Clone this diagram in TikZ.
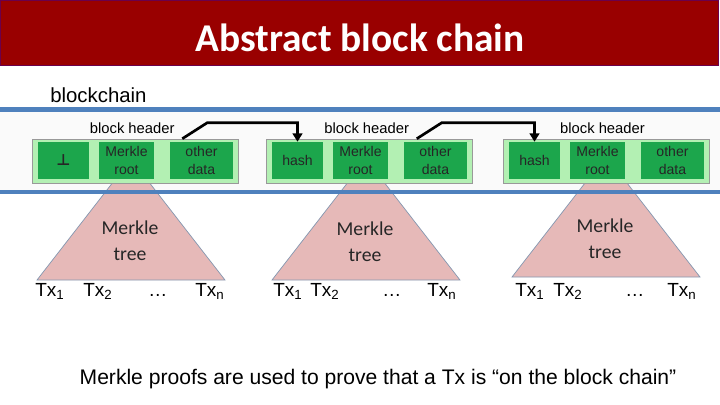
\documentclass[tikz,border=0pt]{standalone}
\usepackage{fontspec}
\setmainfont{Liberation Sans}
\newfontfamily\carlito{Carlito}
\newfontfamily\dejavu{DejaVu Sans}
\usetikzlibrary{arrows.meta, positioning}
\definecolor{bcred}{HTML}{990000}
\definecolor{bcblue}{HTML}{4F81BD}
\definecolor{bclightgreen}{HTML}{B3F0B3}
\definecolor{bcgreen}{HTML}{1CA64C}
\definecolor{bcpink}{HTML}{E6B9B8}
\definecolor{bcedge}{HTML}{8497B0}
\definecolor{bcband}{HTML}{FAFAFA}

\begin{document}
\begin{tikzpicture}[
  every node/.style={inner sep=0pt},
  hdrbox/.style={rectangle, draw=black!40, fill=bclightgreen, minimum width=5.15cm, minimum height=1.1cm},
  fieldbox/.style={rectangle, fill=bcgreen, minimum height=0.925cm, align=center, font=\fontsize{10}{12.8}\selectfont, text=black!85},
  hdrlabel/.style={font=\fontsize{10.5}{12}\selectfont},
  treefill/.style={fill=bcpink, draw=bcedge, line width=0.5pt},
  treelabel/.style={font=\carlito\fontsize{14}{18.5}\selectfont, align=center, text=black!85},
  txlabel/.style={anchor=base west, font=\fontsize{13.5}{16}\selectfont},
  chainarrow/.style={-{Triangle[length=6pt,width=7pt]}, line width=1.9pt},
  sepline/.style={bcblue, line width=3.2pt},
]
\useasboundingbox (0,0) rectangle (18,-10.125);

% Title bar
\node[rectangle, fill=bcred, draw=bcred!70!blue, line width=0.5pt, minimum width=17.95cm, minimum height=1.625cm] (titlebar) at (8.975,-0.8125) {};
\node[font=\carlito\bfseries\fontsize{28}{30}\selectfont, text=white] (title) at (9,-0.95) {Abstract block chain};

\node[anchor=west, font=\fontsize{14.5}{16}\selectfont] (chainlabel) at (1.25,-2.38) {blockchain};

% Chain band
\fill[bcband] (0,-2.74) rectangle (18,-4.8);

% Merkle trees
\draw[treefill] (0.925,-7.0) -- (5.625,-7.0) -- (3.275,-3.975) -- cycle;
\draw[treefill] (6.8,-7.0) -- (11.5,-7.0) -- (9.15,-3.975) -- cycle;
\draw[treefill] (12.8,-6.925) -- (17.5,-6.925) -- (15.15,-3.9) -- cycle;

\node[treelabel] (tree1) at (3.25,-6.03) {Merkle\\tree};
\node[treelabel] (tree2) at (9.125,-6.04) {Merkle\\tree};
\node[treelabel] (tree3) at (15.125,-5.96) {Merkle\\tree};

\draw[sepline] (0,-2.7375) -- (18,-2.7375);
\draw[sepline] (0,-4.8) -- (18,-4.8);

% Block headers
\node[hdrbox] (hdr1) at (3.375,-4.025) {};
\node[hdrbox] (hdr2) at (9.2375,-4.025) {};
\node[hdrbox] (hdr3) at (15.1625,-4.025) {};

\node[hdrlabel, above=0.12cm of hdr1, xshift=-0.07cm] (hlab1) {block header};
\node[hdrlabel, above=0.12cm of hdr2, xshift=-0.07cm] (hlab2) {block header};
\node[hdrlabel, above=0.12cm of hdr3, xshift=-0.1cm] (hlab3) {block header};

\node[fieldbox, minimum width=1.275cm, font=\dejavu\bfseries\fontsize{11}{12}\selectfont] (prev1) at (1.5875,-4.0125) {⊥};
\node[fieldbox, minimum width=1.375cm] (root1) at (3.1625,-4.0125) {Merkle\\root};
\node[fieldbox, minimum width=1.575cm] (other1) at (5.0375,-4.0125) {other\\data};

\node[fieldbox, minimum width=1.275cm] (hash2) at (7.4375,-4.0125) {hash};
\node[fieldbox, minimum width=1.375cm] (root2) at (9.0125,-4.0125) {Merkle\\root};
\node[fieldbox, minimum width=1.575cm] (other2) at (10.8875,-4.0125) {other\\data};

\node[fieldbox, minimum width=1.275cm] (hash3) at (13.3625,-4.0125) {hash};
\node[fieldbox, minimum width=1.375cm] (root3) at (14.9375,-4.0125) {Merkle\\root};
\node[fieldbox, minimum width=1.575cm] (other3) at (16.8125,-4.0125) {other\\data};

% Hash pointers
\draw[chainarrow] ([xshift=-1.4cm]hdr1.north east) -- ++(0.625,0.4) -| (hash2.north);
\draw[chainarrow] ([xshift=-1.4cm]hdr2.north east) -- ++(0.625,0.4) -| (hash3.north);

% Transactions
\node[txlabel] (tx11) at (0.875,-7.42) {Tx\textsubscript{1}};
\node[txlabel] (tx12) at (2.075,-7.42) {Tx\textsubscript{2}};
\node[txlabel] (tx13) at (3.7,-7.42) {\ldots};
\node[txlabel] (tx1n) at (4.875,-7.42) {Tx\textsubscript{n}};

\node[txlabel] (tx21) at (6.825,-7.42) {Tx\textsubscript{1}};
\node[txlabel] (tx22) at (7.75,-7.42) {Tx\textsubscript{2}};
\node[txlabel] (tx23) at (9.55,-7.42) {\ldots};
\node[txlabel] (tx2n) at (10.675,-7.42) {Tx\textsubscript{n}};

\node[txlabel] (tx31) at (12.875,-7.42) {Tx\textsubscript{1}};
\node[txlabel] (tx32) at (13.825,-7.42) {Tx\textsubscript{2}};
\node[txlabel] (tx33) at (15.625,-7.42) {\ldots};
\node[txlabel] (tx3n) at (16.675,-7.42) {Tx\textsubscript{n}};

\node[font=\fontsize{15}{17}\selectfont] (note) at (9.45,-9.475) {Merkle proofs are used to prove that a Tx is “on the block chain”};

\end{tikzpicture}
\end{document}
